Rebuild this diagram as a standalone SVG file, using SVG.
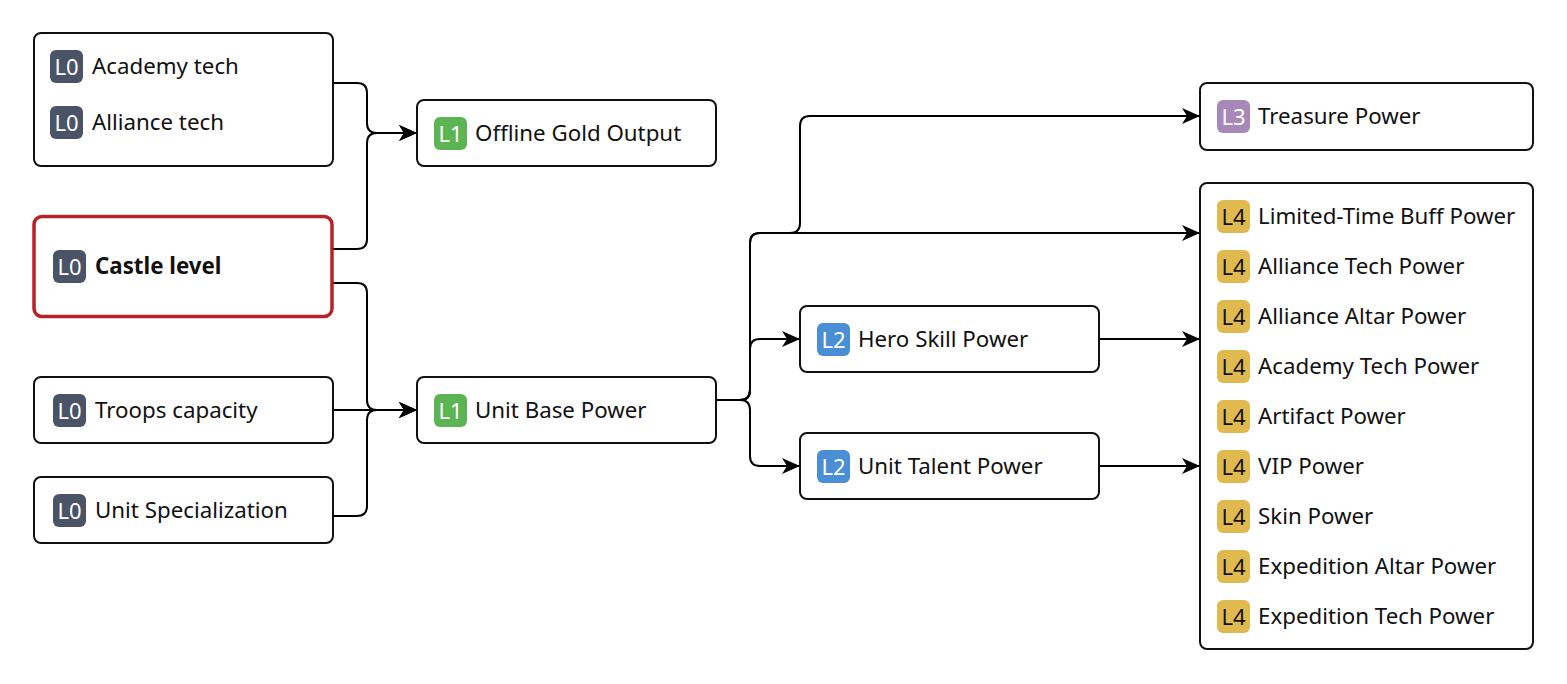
<svg xmlns="http://www.w3.org/2000/svg" width="1567" height="684" viewBox="0 0 1567 684">
<defs>
<marker id="arr" viewBox="0 0 18 16" refX="18" refY="8" markerWidth="18" markerHeight="16" markerUnits="userSpaceOnUse" orient="auto">
<path d="M0,0 L18,8 L0,16 L5,8 Z" fill="#000"/>
</marker>
</defs>
<style>
.box{fill:#fff;stroke:#111;stroke-width:2}
.hl{fill:#fff;stroke:#b5232a;stroke-width:3.5}
.t{font-family:"Noto Sans","Open Sans",sans-serif;font-size:22.3px;fill:#111;dominant-baseline:central}
.b{font-weight:bold}
.bt{font-family:"Noto Sans","Open Sans",sans-serif;font-size:22px;fill:#fff;text-anchor:middle;dominant-baseline:central}
.bk{fill:#111}
.c{fill:none;stroke:#000;stroke-width:2}
.l0{fill:#4a5466}.l1{fill:#5cb553}.l2{fill:#4a8fd6}.l3{fill:#a888b8}.l4{fill:#e0ba4e}
</style>
<rect width="1567" height="684" fill="#fff"/>
<g id="connectors">
<path class="c" d="M333,83 H357 Q367,83 367,93 V123 Q367,133 377,133 H417" marker-end="url(#arr)"/>
<path class="c" d="M333,249 H357 Q367,249 367,239 V143 Q367,133 377,133 H417" marker-end="url(#arr)"/>
<path class="c" d="M333,283 H357 Q367,283 367,293 V400 Q367,410 377,410 H417" marker-end="url(#arr)"/>
<path class="c" d="M333,410 H417" marker-end="url(#arr)"/>
<path class="c" d="M333,516 H357 Q367,516 367,506 V420 Q367,410 377,410 H417" marker-end="url(#arr)"/>
<path class="c" d="M716,400 H740 Q750,400 750,390 V243 Q750,233 760,233 H1200" marker-end="url(#arr)"/>
<path class="c" d="M716,400 H740 Q750,400 750,390 V243 Q750,233 760,233 H790 Q800,233 800,223 V126 Q800,116 810,116 H1200" marker-end="url(#arr)"/>
<path class="c" d="M716,400 H740 Q750,400 750,390 V349 Q750,339 760,339 H800" marker-end="url(#arr)"/>
<path class="c" d="M716,400 H740 Q750,400 750,410 V456 Q750,466 760,466 H800" marker-end="url(#arr)"/>
<path class="c" d="M1099,339 H1200" marker-end="url(#arr)"/>
<path class="c" d="M1099,466 H1200" marker-end="url(#arr)"/>
</g>
<g id="tech">
<rect class="box" x="34" y="33" width="299" height="133" rx="7"/>
<rect class="l0" x="50" y="50" width="33" height="33" rx="6"/><text class="bt" x="66.5" y="66">L0</text>
<text class="t" x="92" y="65">Academy tech</text>
<rect class="l0" x="50" y="106" width="33" height="33" rx="6"/><text class="bt" x="66.5" y="122">L0</text>
<text class="t" x="92" y="121">Alliance tech</text>
</g>
<g id="castle">
<rect class="hl" x="34" y="216.5" width="298" height="100" rx="8"/>
<rect class="l0" x="53" y="250" width="33" height="33" rx="6"/><text class="bt" x="69.5" y="266">L0</text>
<text class="t b" x="95" y="265">Castle level</text>
</g>
<g id="troops">
<rect class="box" x="34" y="377" width="299" height="66" rx="7"/>
<rect class="l0" x="53" y="394" width="33" height="33" rx="6"/><text class="bt" x="69.5" y="410">L0</text>
<text class="t" x="95" y="409">Troops capacity</text>
</g>
<g id="spec">
<rect class="box" x="34" y="477" width="299" height="66" rx="7"/>
<rect class="l0" x="53" y="494" width="33" height="33" rx="6"/><text class="bt" x="69.5" y="510">L0</text>
<text class="t" x="95" y="509">Unit Specialization</text>
</g>
<g id="gold">
<rect class="box" x="417" y="100" width="299" height="66" rx="7"/>
<rect class="l1" x="434" y="117" width="33" height="33" rx="6"/><text class="bt" x="450.5" y="133">L1</text>
<text class="t" x="475" y="132">Offline Gold Output</text>
</g>
<g id="base">
<rect class="box" x="417" y="377" width="299" height="66" rx="7"/>
<rect class="l1" x="434" y="394" width="33" height="33" rx="6"/><text class="bt" x="450.5" y="410">L1</text>
<text class="t" x="475" y="409">Unit Base Power</text>
</g>
<g id="hero">
<rect class="box" x="800" y="306" width="299" height="66" rx="7"/>
<rect class="l2" x="817" y="323" width="33" height="33" rx="6"/><text class="bt" x="833.5" y="339">L2</text>
<text class="t" x="858" y="338">Hero Skill Power</text>
</g>
<g id="talent">
<rect class="box" x="800" y="433" width="299" height="66" rx="7"/>
<rect class="l2" x="817" y="450" width="33" height="33" rx="6"/><text class="bt" x="833.5" y="466">L2</text>
<text class="t" x="858" y="465">Unit Talent Power</text>
</g>
<g id="treasure">
<rect class="box" x="1200" y="83" width="333" height="67" rx="7"/>
<rect class="l3" x="1217" y="100" width="33" height="33" rx="6"/><text class="bt" x="1233.5" y="116">L3</text>
<text class="t" x="1258" y="115">Treasure Power</text>
</g>
<g id="l4group">
<rect class="box" x="1200" y="183" width="333" height="466" rx="7"/>
<rect class="l4" x="1217" y="200" width="33" height="33" rx="6"/><text class="bt bk" x="1233.5" y="216">L4</text>
<text class="t" x="1258" y="215">Limited-Time Buff Power</text>
<rect class="l4" x="1217" y="250" width="33" height="33" rx="6"/><text class="bt bk" x="1233.5" y="266">L4</text>
<text class="t" x="1258" y="265">Alliance Tech Power</text>
<rect class="l4" x="1217" y="300" width="33" height="33" rx="6"/><text class="bt bk" x="1233.5" y="316">L4</text>
<text class="t" x="1258" y="315">Alliance Altar Power</text>
<rect class="l4" x="1217" y="350" width="33" height="33" rx="6"/><text class="bt bk" x="1233.5" y="366">L4</text>
<text class="t" x="1258" y="365">Academy Tech Power</text>
<rect class="l4" x="1217" y="400" width="33" height="33" rx="6"/><text class="bt bk" x="1233.5" y="416">L4</text>
<text class="t" x="1258" y="415">Artifact Power</text>
<rect class="l4" x="1217" y="450" width="33" height="33" rx="6"/><text class="bt bk" x="1233.5" y="466">L4</text>
<text class="t" x="1258" y="465">VIP Power</text>
<rect class="l4" x="1217" y="500" width="33" height="33" rx="6"/><text class="bt bk" x="1233.5" y="516">L4</text>
<text class="t" x="1258" y="515">Skin Power</text>
<rect class="l4" x="1217" y="550" width="33" height="33" rx="6"/><text class="bt bk" x="1233.5" y="566">L4</text>
<text class="t" x="1258" y="565">Expedition Altar Power</text>
<rect class="l4" x="1217" y="600" width="33" height="33" rx="6"/><text class="bt bk" x="1233.5" y="616">L4</text>
<text class="t" x="1258" y="615">Expedition Tech Power</text>
</g>
</svg>
